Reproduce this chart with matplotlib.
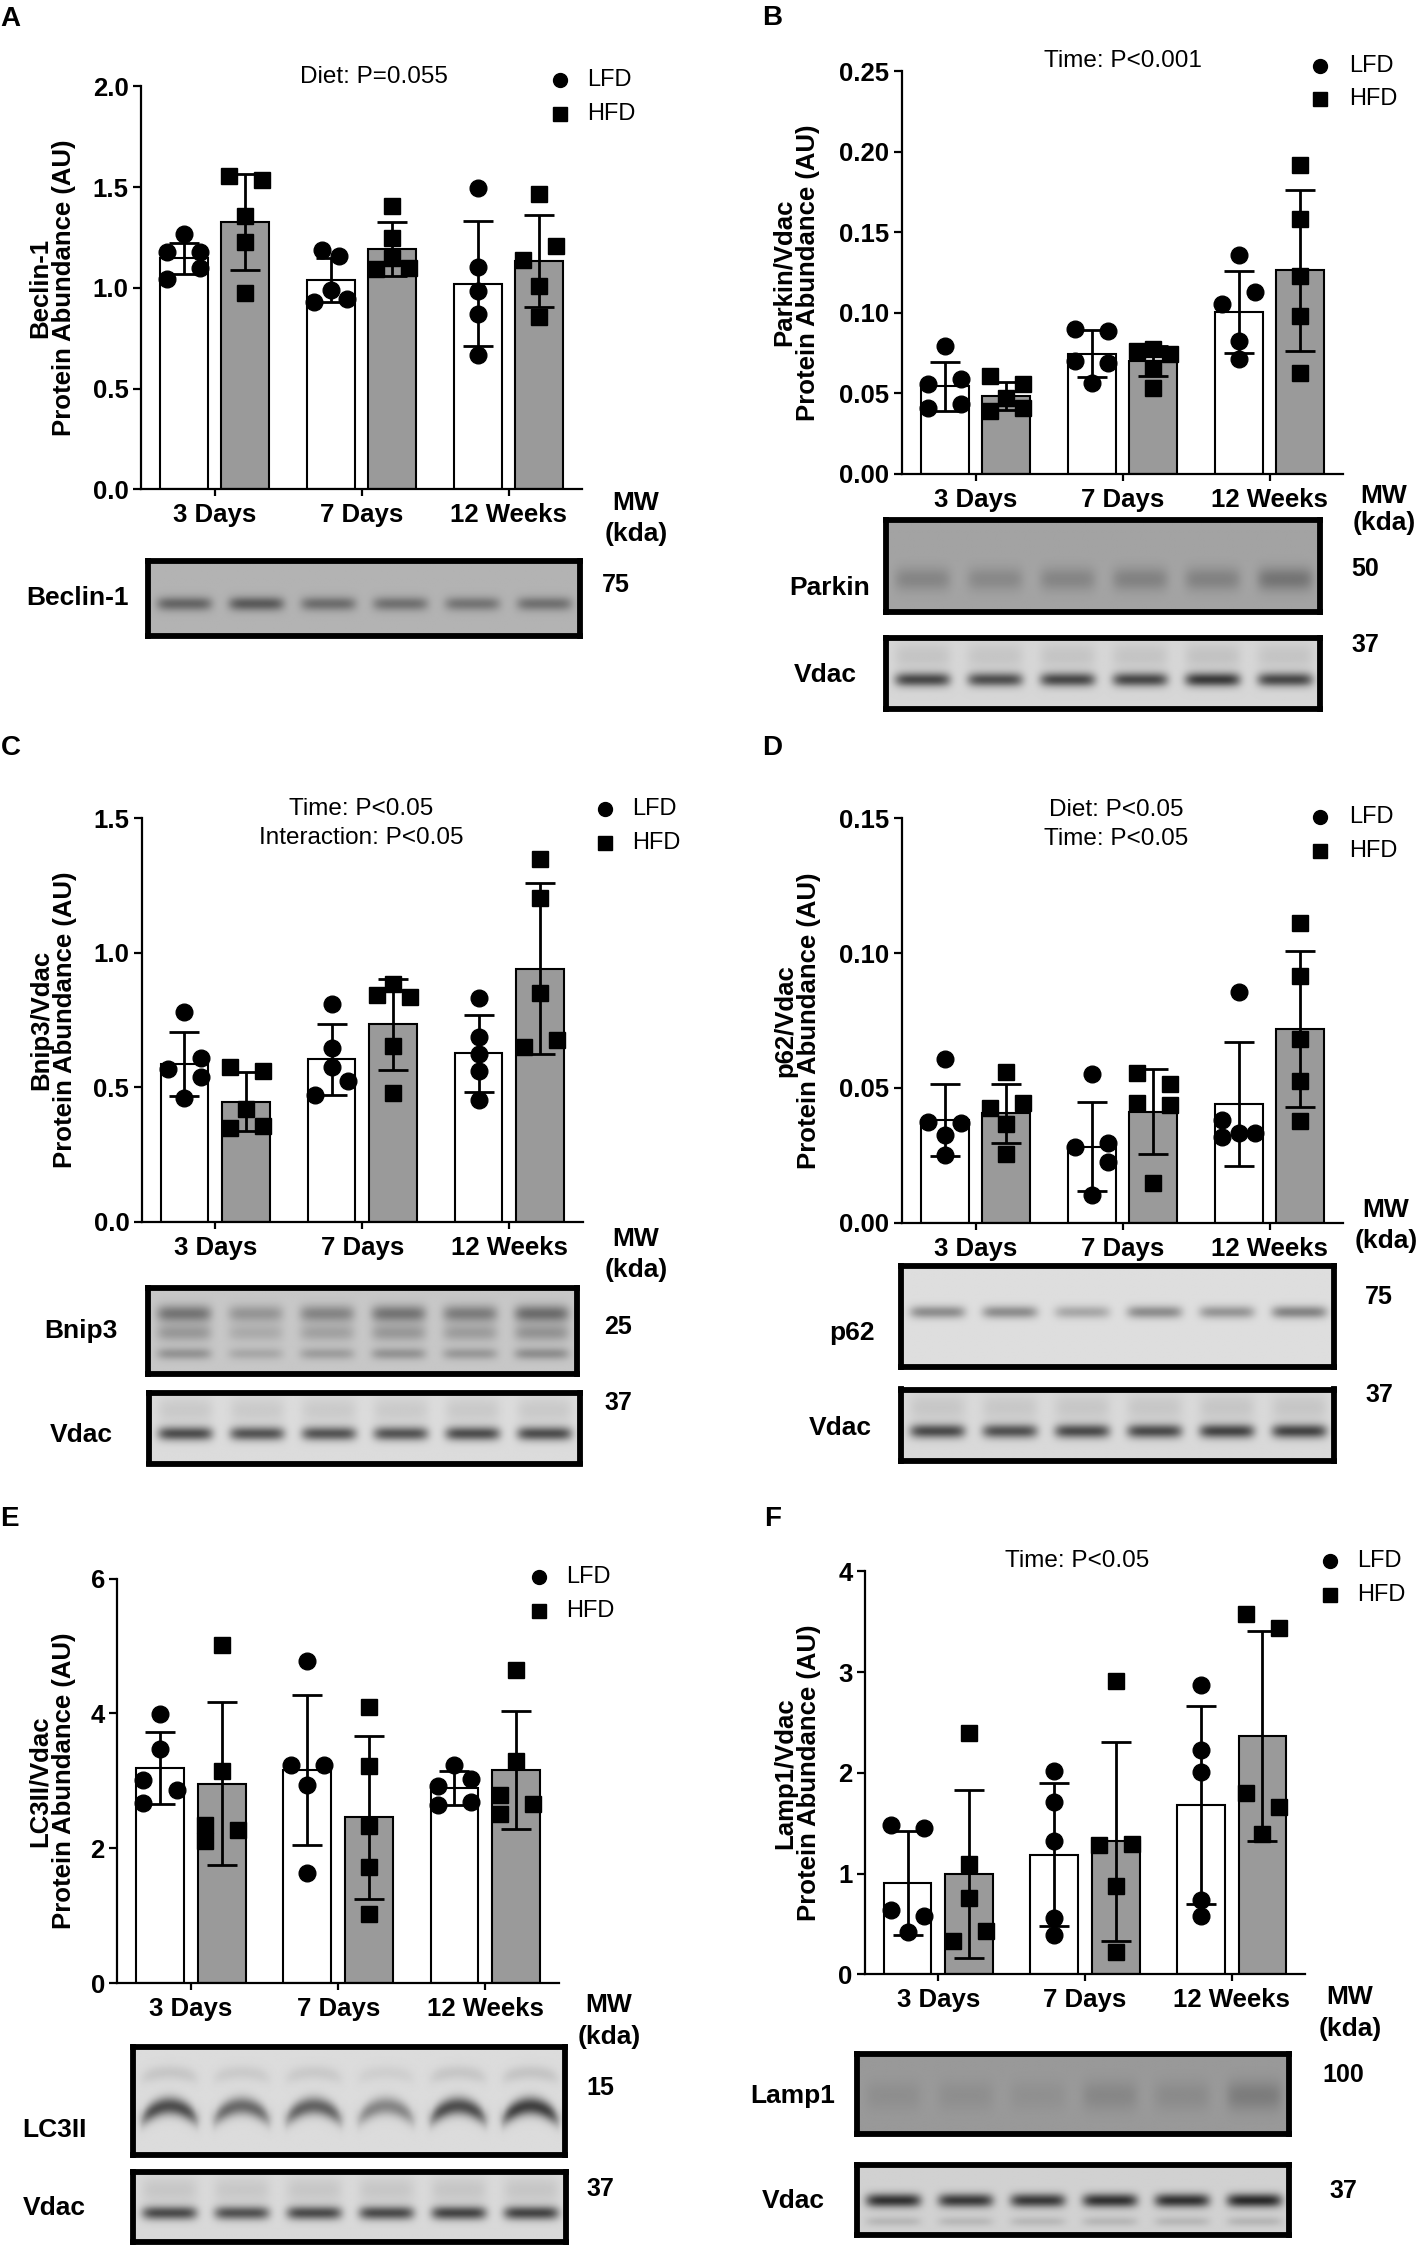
import matplotlib
matplotlib.use("Agg")
import matplotlib.pyplot as plt
import numpy as np
from matplotlib.lines import Line2D

plt.rcParams["font.family"] = ["Liberation Sans", "DejaVu Sans"]
plt.rcParams["font.weight"] = "bold"

W, H = 1418, 2249
GROUPS = ["3 Days", "7 Days", "12 Weeks"]

# ---- data (LFD / HFD, per time point) ----
BECLIN_LFD_MEAN = [1.146, 1.040, 1.021]
BECLIN_LFD_SD = [0.079, 0.110, 0.311]
BECLIN_HFD_MEAN = [1.328, 1.194, 1.134]
BECLIN_HFD_SD = [0.238, 0.133, 0.227]
BECLIN_LFD_PTS = [[1.18, 1.265, 1.18, 1.044, 1.10], [1.19, 1.157, 0.99, 0.929, 0.946], [1.497, 1.104, 0.987, 0.873, 0.668]]
BECLIN_HFD_PTS = [[1.557, 1.534, 1.359, 1.228, 0.977], [1.092, 1.246, 1.146, 1.10, 1.407], [1.468, 1.14, 1.209, 1.008, 0.858]]

PARKIN_LFD_MEAN = [0.0544, 0.0747, 0.1003]
PARKIN_LFD_SD = [0.0153, 0.0143, 0.0254]
PARKIN_HFD_MEAN = [0.0485, 0.0700, 0.1265]
PARKIN_HFD_SD = [0.0088, 0.0095, 0.0500]
PARKIN_LFD_PTS = [[0.0795, 0.0556, 0.0587, 0.041, 0.0433], [0.0898, 0.0889, 0.0701, 0.069, 0.0564], [0.1357, 0.1055, 0.1126, 0.0824, 0.0713]]
PARKIN_HFD_PTS = [[0.061, 0.0559, 0.0473, 0.0393, 0.0408], [0.076, 0.0747, 0.0775, 0.066, 0.0533], [0.1916, 0.1585, 0.1231, 0.098, 0.0627]]

BNIP3_LFD_MEAN = [0.588, 0.604, 0.626]
BNIP3_LFD_SD = [0.119, 0.133, 0.142]
BNIP3_HFD_MEAN = [0.447, 0.734, 0.941]
BNIP3_HFD_SD = [0.110, 0.170, 0.317]
BNIP3_LFD_PTS = [[0.779, 0.568, 0.609, 0.537, 0.46], [0.811, 0.645, 0.575, 0.523, 0.472], [0.831, 0.687, 0.622, 0.559, 0.454]]
BNIP3_HFD_PTS = [[0.577, 0.561, 0.418, 0.35, 0.355], [0.883, 0.844, 0.837, 0.653, 0.478], [1.349, 1.204, 0.851, 0.649, 0.676]]

P62_LFD_MEAN = [0.0380, 0.0282, 0.0439]
P62_LFD_SD = [0.0134, 0.0165, 0.0230]
P62_HFD_MEAN = [0.0406, 0.0412, 0.0719]
P62_HFD_SD = [0.0110, 0.0158, 0.0290]
P62_LFD_PTS = [[0.0606, 0.0372, 0.0369, 0.0327, 0.0252], [0.0552, 0.0295, 0.0282, 0.0225, 0.0101], [0.0856, 0.0381, 0.0318, 0.0333, 0.0333]]
P62_HFD_PTS = [[0.0558, 0.0444, 0.0426, 0.0367, 0.0254], [0.0556, 0.0513, 0.0444, 0.0435, 0.0146], [0.1112, 0.0916, 0.068, 0.0525, 0.0376]]

LC3_LFD_MEAN = [3.19, 3.16, 2.90]
LC3_LFD_SD = [0.53, 1.11, 0.25]
LC3_HFD_MEAN = [2.96, 2.46, 3.16]
LC3_HFD_SD = [1.21, 1.21, 0.87]
LC3_LFD_PTS = [[3.99, 3.47, 3.01, 2.87, 2.67], [4.78, 3.24, 3.24, 2.94, 1.64], [3.24, 2.92, 3.03, 2.65, 2.69]]
LC3_HFD_PTS = [[5.02, 3.15, 2.34, 2.11, 2.27], [4.09, 3.22, 2.33, 1.72, 1.02], [4.64, 3.29, 2.79, 2.51, 2.66]]

LAMP1_LFD_MEAN = [0.905, 1.187, 1.679]
LAMP1_LFD_SD = [0.515, 0.710, 0.985]
LAMP1_HFD_MEAN = [0.998, 1.320, 2.365]
LAMP1_HFD_SD = [0.835, 0.990, 1.046]
LAMP1_LFD_PTS = [[1.484, 1.455, 0.642, 0.579, 0.418], [2.02, 1.713, 1.324, 0.56, 0.394], [2.871, 2.229, 2.005, 0.735, 0.584]]
LAMP1_HFD_PTS = [[2.399, 1.10, 0.754, 0.433, 0.331], [2.91, 1.285, 1.294, 0.876, 0.219], [3.572, 3.44, 1.796, 1.659, 1.397]]

# horizontal column of each dot (layout only, in marker widths)
BECLIN_LFD_COLS = [[-1, 0, 1, -1, 1], [-0.5, 0.5, 0, -1, 1], [0, 0, 0, 0, 0]]
BECLIN_HFD_COLS = [[-1, 1, 0, 0, 0], [-1, 0, 0, 1, 0], [0, -1, 1, 0, 0]]
PARKIN_LFD_COLS = [[0, -1, 1, -1, 1], [-1, 1, -1, 1, 0], [0, -1, 1, 0, 0]]
PARKIN_HFD_COLS = [[-1, 1, 0, -1, 1], [-1, 1, 0, 0, 0], [0, 0, 0, 0, 0]]
BNIP3_LFD_COLS = [[0, -1, 1, 1, 0], [0, 0, 0, 1, -1], [0, 0, 0, 0, 0]]
BNIP3_HFD_COLS = [[-1, 1, 0, -1, 1], [0, -1, 1, 0, 0], [0, 0, 0, -1, 1]]
P62_LFD_COLS = [[0, -1, 1, 0, 0], [0, 1, -1, 1, 0], [0, -1, -1, 0, 1]]
P62_HFD_COLS = [[0, 1, -1, 0, 0], [-1, 1, -1, 1, 0], [0, 0, 0, 0, 0]]
LC3_LFD_COLS = [[0, 0, -1, 1, -1], [0, -1, 1, 0, 0], [0, -1, 1, -1, 1]]
LC3_HFD_COLS = [[0, 0, -1, -1, 1], [0, 0, 0, 0, 0], [0, 0, -1, -1, 1]]
LAMP1_LFD_COLS = [[-1, 1, -1, 1, 0], [0, 0, 0, 0, 0], [0, 0, 0, 0, 0]]
LAMP1_HFD_COLS = [[0, 0, 0, 1, -1], [0, -1, 1, 0, 0], [-1, 1, -1, 1, 0]]

BAR_W = 0.325
BAR_OFF = 0.21
STEP = 0.113
GRAY = "#9a9a9a"

# blot look: background, bands (y frac, sigma frac, depth, arch), lane strengths
VDAC_BANDS = [(0.58, 0.07, 0.55, 0.0), (0.25, 0.13, 0.07, 0.0)]

PANELS = [
    dict(letter="A", letter_xy=(10, 19), box=(141, 86.3, 582, 489.5), top=2.0, step=0.5, fmt="{:.1f}",
         ylab="Beclin-1", ylab_x=52,
         data=(BECLIN_LFD_MEAN, BECLIN_LFD_SD, BECLIN_LFD_PTS, BECLIN_LFD_COLS,
               BECLIN_HFD_MEAN, BECLIN_HFD_SD, BECLIN_HFD_PTS, BECLIN_HFD_COLS),
         notes=[("Diet: P=0.055", 374, 76.6)], leg=(560, 80, 113.6, 587), mw=(636, 503, 534),
         blots=[("Beclin-1", 77, 598, (145, 557.7, 583, 639), "75", 616, 585,
                 0.70, [(0.57, 0.065, 0.30, 0.0)], [1.0, 1.15, 0.9, 0.85, 0.8, 0.85])]),
    dict(letter="B", letter_xy=(772, 18.4), box=(902, 71.2, 1343, 473.8), top=0.25, step=0.05, fmt="{:.2f}",
         ylab="Parkin/Vdac", ylab_x=796,
         data=(PARKIN_LFD_MEAN, PARKIN_LFD_SD, PARKIN_LFD_PTS, PARKIN_LFD_COLS,
               PARKIN_HFD_MEAN, PARKIN_HFD_SD, PARKIN_HFD_PTS, PARKIN_HFD_COLS),
         notes=[("Time: P<0.001", 1122.6, 60.6)], leg=(1320, 65.7, 99, 1349), mw=(1384, 496, 523),
         blots=[("Parkin", 829.5, 587.7, (883, 516.5, 1323, 615), "50", 1365, 569,
                 0.64, [(0.64, 0.09, 0.13, 0.0)], [0.9, 0.8, 0.9, 1.0, 1.0, 1.4]),
                ("Vdac", 825, 675, (883, 635, 1323, 711.6), "37", 1365, 645,
                 0.84, VDAC_BANDS, [1.0, 0.95, 1.0, 1.0, 1.1, 1.0])]),
    dict(letter="C", letter_xy=(11, 747.6), box=(141.8, 818.4, 583, 1221.7), top=1.5, step=0.5, fmt="{:.1f}",
         ylab="Bnip3/Vdac", ylab_x=53,
         data=(BNIP3_LFD_MEAN, BNIP3_LFD_SD, BNIP3_LFD_PTS, BNIP3_LFD_COLS,
               BNIP3_HFD_MEAN, BNIP3_HFD_SD, BNIP3_HFD_PTS, BNIP3_HFD_COLS),
         notes=[("Time: P<0.05", 361, 809), ("Interaction: P<0.05", 361, 838)],
         leg=(604.5, 808.7, 842.6, 632), mw=(636, 1238.7, 1270),
         blots=[("Bnip3", 81, 1330.8, (144.5, 1284.7, 579.5, 1376.8), "25", 618, 1327,
                 0.78, [(0.30, 0.07, 0.32, 0.0), (0.52, 0.07, 0.18, 0.0), (0.76, 0.05, 0.20, 0.0)],
                 [1.0, 0.6, 0.8, 1.0, 0.9, 1.1]),
                ("Vdac", 81, 1435, (146, 1390, 583, 1466.5), "37", 618, 1403,
                 0.86, VDAC_BANDS, [1.0, 0.95, 0.95, 0.95, 1.0, 1.0])]),
    dict(letter="D", letter_xy=(772, 747.6), box=(902, 818.4, 1343, 1222.7), top=0.15, step=0.05, fmt="{:.2f}",
         ylab="p62/Vdac", ylab_x=797,
         data=(P62_LFD_MEAN, P62_LFD_SD, P62_LFD_PTS, P62_LFD_COLS,
               P62_HFD_MEAN, P62_HFD_SD, P62_HFD_PTS, P62_HFD_COLS),
         notes=[("Diet: P<0.05", 1116, 810), ("Time: P<0.05", 1116, 838.8)],
         leg=(1320, 817, 851, 1349), mw=(1386, 1209.6, 1241),
         blots=[("p62", 852, 1333, (897.6, 1263, 1337, 1369.5), "75", 1379, 1296.8,
                 0.87, [(0.45, 0.045, 0.35, 0.0)], [0.9, 0.9, 0.6, 0.9, 0.8, 1.0]),
                ("Vdac", 840, 1427.7, (897.6, 1386.5, 1337, 1464), "37", 1379, 1395,
                 0.85, VDAC_BANDS, [1.0, 0.95, 1.0, 1.0, 1.05, 1.05])]),
    dict(letter="E", letter_xy=(9, 1519), box=(117.3, 1578.6, 559, 1983.2), top=6, step=2, fmt="{:.0f}",
         ylab="LC3II/Vdac", ylab_x=52,
         data=(LC3_LFD_MEAN, LC3_LFD_SD, LC3_LFD_PTS, LC3_LFD_COLS,
               LC3_HFD_MEAN, LC3_HFD_SD, LC3_HFD_PTS, LC3_HFD_COLS),
         notes=[], leg=(538.6, 1576.6, 1611.4, 566), mw=(609, 2004.8, 2036.7),
         blots=[("LC3II", 54.5, 2129.8, (129.5, 2044, 568, 2157.8), "15", 600, 2088,
                 0.86, [(0.66, 0.06, 0.55, 0.12), (0.28, 0.05, 0.08, 0.05)],
                 [1.0, 0.8, 0.85, 0.6, 1.0, 1.1]),
                ("Vdac", 54.5, 2208, (129.5, 2169, 569, 2245), "37", 600, 2188.7,
                 0.85, VDAC_BANDS, [1.0, 0.95, 1.0, 1.0, 1.05, 1.05])]),
    dict(letter="F", letter_xy=(772.6, 1519), box=(865, 1571.2, 1305, 1974.4), top=4, step=1, fmt="{:.0f}",
         ylab="Lamp1/Vdac", ylab_x=797,
         data=(LAMP1_LFD_MEAN, LAMP1_LFD_SD, LAMP1_LFD_PTS, LAMP1_LFD_COLS,
               LAMP1_HFD_MEAN, LAMP1_HFD_SD, LAMP1_HFD_PTS, LAMP1_HFD_COLS),
         notes=[("Time: P<0.05", 1077, 1561)], leg=(1329.5, 1561.4, 1595, 1356.7), mw=(1350, 1997.4, 2029),
         blots=[("Lamp1", 793, 2095.5, (853.5, 2051, 1292, 2137), "100", 1343, 2075,
                 0.60, [(0.52, 0.13, 0.07, 0.0)], [0.6, 0.6, 0.5, 1.0, 0.8, 1.6]),
                ("Vdac", 793, 2201, (853.5, 2161.7, 1292, 2237.7), "37", 1343, 2191,
                 0.82, [(0.50, 0.07, 0.62, 0.0), (0.80, 0.05, 0.10, 0.0)], [1.0, 0.95, 0.95, 1.0, 1.0, 1.05])]),
]


def fx(x):
    return x / W


def fy(y):
    return 1 - y / H


def box_rect(box):
    l, t, r, b = box
    return [fx(l), fy(b), (r - l) / W, (b - t) / H]


def blot_image(bg, bands, strengths, h=80, w=420):
    yy, xx = np.mgrid[0:h, 0:w].astype(float)
    img = np.full((h, w), bg)
    lane_w = w / len(strengths)
    for i, s in enumerate(strengths):
        u = (xx - (i + 0.5) * lane_w) / (0.38 * lane_w)
        xprof = np.exp(-u ** 6)
        for yc, sig, depth, arch in bands:
            ycen = (yc - arch * (1 - np.clip(u, -1, 1) ** 2)) * h
            yprof = np.exp(-0.5 * ((yy - ycen) / (sig * h)) ** 2)
            img -= depth * s * xprof * yprof
    return np.clip(img, 0, 1)


def draw_panel(fig, p):
    ax = fig.add_axes(box_rect(p["box"]))
    lm, ls, lp, lc, hm, hs, hp, hc = p["data"]
    x = np.arange(len(GROUPS))
    series = [(-BAR_OFF, lm, ls, lp, lc, "white", "o", 12),
              (BAR_OFF, hm, hs, hp, hc, GRAY, "s", 11)]
    for off, means, sds, pts, cols, color, marker, ms in series:
        ax.bar(x + off, means, width=BAR_W, color=color, edgecolor="black", linewidth=1.5, zorder=2)
        ax.errorbar(x + off, means, yerr=sds, fmt="none", ecolor="black", elinewidth=2,
                    capsize=11, capthick=2, zorder=3)
        for i in range(len(GROUPS)):
            xs = x[i] + off + np.array(cols[i]) * STEP
            ax.plot(xs, pts[i], linestyle="none", marker=marker, ms=ms, color="black",
                    zorder=4, clip_on=False)

    ax.set_xlim(-0.5, 2.5)
    ax.set_ylim(0, p["top"])
    ticks = np.arange(0, p["top"] + p["step"] / 2, p["step"])
    ax.set_yticks(ticks, [p["fmt"].format(t) for t in ticks])
    ax.set_xticks(x, GROUPS)
    ax.spines[["top", "right"]].set_visible(False)
    for side in ["left", "bottom"]:
        ax.spines[side].set_linewidth(1.6)
    ax.tick_params(axis="y", length=6, width=1.6, pad=3, labelsize=18.5)
    ax.tick_params(axis="x", length=5, width=1.6, pad=5, labelsize=18.5)

    l, t, r, b = p["box"]
    fig.text(fx(p["ylab_x"]), fy((t + b) / 2), p["ylab"] + "\nProtein Abundance (AU)", rotation=90,
             ha="center", va="center", multialignment="center", fontsize=18.5, linespacing=1.0)
    fig.text(fx(p["letter_xy"][0]), fy(p["letter_xy"][1]), p["letter"], ha="center", va="center", fontsize=20)

    for txt, tx, ty in p["notes"]:
        fig.text(fx(tx), fy(ty), txt, ha="center", va="center", fontsize=17.5, fontweight="normal")

    mx, y1, y2, tx = p["leg"]
    for yy, marker, label in [(y1, "o", "LFD"), (y2, "s", "HFD")]:
        fig.add_artist(Line2D([fx(mx)], [fy(yy)], marker=marker, ms=10, color="black",
                              linestyle="none", transform=fig.transFigure))
        fig.text(fx(tx), fy(yy), label, ha="left", va="center", fontsize=17, fontweight="normal")

    wx, wy1, wy2 = p["mw"]
    fig.text(fx(wx), fy(wy1), "MW", ha="center", va="center", fontsize=19)
    fig.text(fx(wx), fy(wy2), "(kda)", ha="center", va="center", fontsize=19)

    for name, nx, ny, bbox, kda, kx, ky, bg, bands, strengths in p["blots"]:
        bl, bt, br, bb = bbox
        bax = fig.add_axes(box_rect((bl + 3, bt + 3, br - 3, bb - 3)))
        bax.imshow(blot_image(bg, bands, strengths), cmap="gray", vmin=0, vmax=1,
                   aspect="auto", interpolation="bilinear")
        bax.set_xticks([])
        bax.set_yticks([])
        for sp in bax.spines.values():
            sp.set_linewidth(4.2)
            sp.set_color("black")
        fig.text(fx(nx), fy(ny), name, ha="center", va="center", fontsize=19)
        fig.text(fx(kx), fy(ky), kda, ha="center", va="center", fontsize=18)


fig = plt.figure(figsize=(W / 100, H / 100), dpi=100)
for panel in PANELS:
    draw_panel(fig, panel)
fig.savefig("out.png", dpi=100, facecolor="white")
